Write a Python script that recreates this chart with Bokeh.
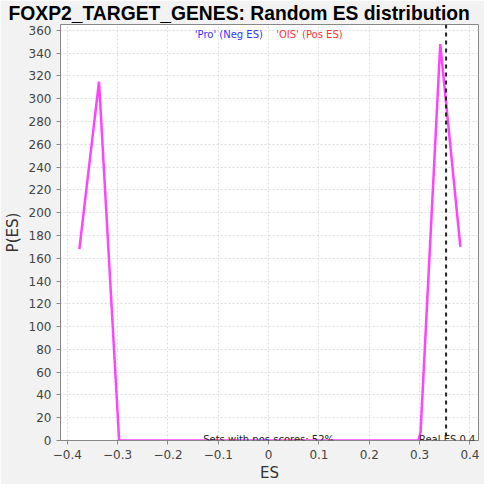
from bokeh.plotting import figure
from bokeh.models import Range1d, Label, Span, FixedTicker
from bokeh.embed import file_html
from bokeh.resources import INLINE

es = [-0.376, -0.337, -0.297, -0.258, -0.219, -0.180, -0.141, -0.102, -0.062, -0.023,
      0.016, 0.055, 0.094, 0.133, 0.172, 0.211, 0.250, 0.298, 0.302, 0.341, 0.381]
pes = [168, 315, 0, 0, 0, 0, 0, 0, 0, 0, 0, 0, 0, 0, 0, 0, 0, 0, 8, 348, 170]
real_es = 0.3526
x_ticks = [-0.4, -0.3, -0.2, -0.1, 0.0, 0.1, 0.2, 0.3, 0.4]
y_ticks = list(range(0, 361, 20))

p = figure(width=484, height=484, output_backend="svg", toolbar_location=None,
           x_range=Range1d(-0.4135, 0.417), y_range=Range1d(0, 365.2),
           min_border_left=54, min_border_right=6, min_border_top=24, min_border_bottom=40)
p.background_fill_color = "white"
p.border_fill_color = "#f2f2f2"
p.outline_line_color = "#888888"

p.title.text = "FOXP2_TARGET_GENES: Random ES distribution"
p.title.text_font = "Liberation Sans"
p.title.text_font_style = "bold"
p.title.text_font_size = "19.3px"
p.title.text_color = "black"
p.title.align = "left"
p.title.offset = -52
p.title.standoff = 1

p.line(es, pes, line_color="#ff44ff", line_width=2.5)
p.add_layout(Span(location=real_es, dimension="height", line_color="#222222",
                  line_dash="4 4", line_width=2))

for ax in (p.xaxis[0], p.yaxis[0]):
    ax.axis_line_color = "#888888"
    ax.major_tick_line_color = "#888888"
    ax.major_tick_out = 4
    ax.major_tick_in = 0
    ax.minor_tick_line_color = None
    ax.major_label_text_font = "DejaVu Sans"
    ax.major_label_text_font_size = "12px"
    ax.major_label_text_color = "#444444"
    ax.axis_label_text_font = "DejaVu Sans"
    ax.axis_label_text_font_size = "15px"
    ax.axis_label_text_font_style = "normal"
    ax.axis_label_text_color = "#333333"
p.xaxis[0].ticker = FixedTicker(ticks=x_ticks)
p.yaxis[0].ticker = FixedTicker(ticks=y_ticks)
p.xaxis[0].axis_label = "ES"
p.yaxis[0].axis_label = "P(ES)"
p.xaxis[0].axis_label_standoff = 2
p.yaxis[0].axis_label_standoff = 4

for g in (p.xgrid[0], p.ygrid[0]):
    g.grid_line_color = "#dddddd"
    g.grid_line_dash = "2 2"

p.add_layout(Label(x=-0.079, y=356.5, text="'Pro' (Neg ES)", text_color="#3333ff",
                   text_font="DejaVu Sans", text_font_size="10px", text_align="center",
                   text_baseline="middle"))
p.add_layout(Label(x=0.081, y=356.5, text="'OIS' (Pos ES)", text_color="#ff3333",
                   text_font="DejaVu Sans", text_font_size="10px", text_align="center",
                   text_baseline="middle"))
p.add_layout(Label(x=0.0, y=0, text="Sets with pos scores: 52%", text_color="#222222",
                   text_font="DejaVu Sans", text_font_size="10px", text_align="center",
                   text_baseline="bottom", y_offset=-4))
p.add_layout(Label(x=0.2987, y=0, text="Real ES 0.4", text_color="#222222",
                   text_font="DejaVu Sans", text_font_size="10px", text_align="left",
                   text_baseline="bottom", y_offset=-4))

open("out.html", "w").write(file_html(p, INLINE))
